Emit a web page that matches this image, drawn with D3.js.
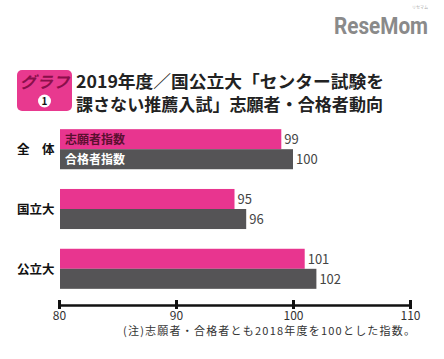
<!DOCTYPE html>
<html lang="ja">
<head>
<meta charset="UTF-8">
<script src="https://cdnjs.cloudflare.com/ajax/libs/d3/7.8.5/d3.min.js"></script>
<style>
body{ margin:0; background:#fff; }
text{ font-family:"Noto Sans CJK JP","Noto Sans",sans-serif; }
</style>
</head>
<body>
<div id="chart"></div>
<script>
// data
const categories = ['全　体', '国立大', '公立大'];
const applicants = [99, 95, 101];   // 志願者指数
const passers = [100, 96, 102];     // 合格者指数
const seriesNames = ['志願者指数', '合格者指数'];
const xTicks = [80, 90, 100, 110];

const w = 444, h = 359;
const svg = d3.select('#chart').append('svg').attr('width', w).attr('height', h);

// logo
svg.append('text').attr('x', 334).attr('y', 34).attr('fill', '#8a8a8a')
  .style('font-family', 'Roboto, sans-serif').style('font-weight', 'bold').style('font-size', '23px')
  .attr('textLength', 94).attr('lengthAdjust', 'spacingAndGlyphs').text('ReseMom');
svg.append('text').attr('x', 420).attr('y', 9).attr('fill', '#aaa').attr('text-anchor', 'middle')
  .style('font-size', '4px').text('リセマム');

// title badge
svg.append('rect').attr('x', 17).attr('y', 70).attr('width', 55).attr('height', 41).attr('rx', 5).attr('fill', '#e8398f');
svg.append('text').attr('x', 44.5).attr('y', 88).attr('text-anchor', 'middle').attr('fill', '#8a0f4a')
  .style('font-size', '16px').style('font-weight', 'bold').style('font-style', 'italic')
  .attr('textLength', 50).attr('lengthAdjust', 'spacingAndGlyphs').text('グラフ');
svg.append('circle').attr('cx', 44.5).attr('cy', 101).attr('r', 6.5).attr('fill', '#fff');
svg.append('text').attr('x', 44.5).attr('y', 105).attr('text-anchor', 'middle').attr('fill', '#111')
  .style('font-size', '10px').style('font-weight', 'bold').text('1');

svg.append('text').attr('x', 76).attr('y', 88).attr('fill', '#222')
  .style('font-size', '17px').style('font-weight', 'bold')
  .attr('textLength', 308).attr('lengthAdjust', 'spacingAndGlyphs').text('2019年度／国公立大「センター試験を');
svg.append('text').attr('x', 76).attr('y', 111).attr('fill', '#222')
  .style('font-size', '17px').style('font-weight', 'bold')
  .attr('textLength', 307).attr('lengthAdjust', 'spacingAndGlyphs').text('課さない推薦入試」志願者・合格者動向');

// scales
const x = d3.scaleLinear().domain([80, 110]).range([59, 410]);
const y = d3.scaleBand().domain(categories).range([119, 299]).paddingInner(0.33).paddingOuter(0.17);
const sub = d3.scaleBand().domain(seriesNames).range([0, y.bandwidth()]);
const colors = ['#e8358f', '#555456'];

const groups = svg.selectAll('g.grp').data(categories).enter().append('g')
  .attr('transform', d => 'translate(0,' + y(d) + ')');

groups.each(function(cat, i) {
  const g = d3.select(this);
  const vals = [applicants[i], passers[i]];
  vals.forEach((v, j) => {
    g.append('rect').attr('x', x(80) + 1).attr('y', sub(seriesNames[j]))
      .attr('width', x(v) - x(80) - 1).attr('height', sub.bandwidth()).attr('fill', colors[j]);
    g.append('text').attr('x', x(v) + 3).attr('y', sub(seriesNames[j]) + sub.bandwidth() / 2 + 5)
      .attr('fill', '#444').style('font-size', '13px').text(v);
  });
  g.append('text').attr('x', 17).attr('y', y.bandwidth() / 2 + 5).attr('fill', '#111')
    .style('font-size', '12.5px').style('font-weight', 'bold').text(cat);
});

// legend inside first group's bars
const g0 = y(categories[0]);
svg.append('text').attr('x', 65).attr('y', g0 + sub(seriesNames[0]) + sub.bandwidth() / 2 + 4.5)
  .attr('fill', '#5a0f30').style('font-size', '12px').style('font-weight', 'bold').text(seriesNames[0]);
svg.append('text').attr('x', 65).attr('y', g0 + sub(seriesNames[1]) + sub.bandwidth() / 2 + 4.5)
  .attr('fill', '#fff').style('font-size', '12px').style('font-weight', 'bold').text(seriesNames[1]);

// axis
const axis = svg.append('g').attr('transform', 'translate(0,305)')
  .call(d3.axisBottom(x).tickValues(xTicks).tickSize(0).tickPadding(6).tickFormat(d3.format('d')));
axis.select('.domain').attr('stroke', '#111').attr('stroke-width', 2.5);
axis.selectAll('.tick line').attr('y1', -5).attr('y2', 4).attr('stroke', '#111').attr('stroke-width', 3);
axis.selectAll('.tick text').attr('fill', '#333').style('font-size', '12px')
  .style('font-family', '"Noto Sans CJK JP",sans-serif');

svg.append('text').attr('x', 123).attr('y', 335).attr('fill', '#333')
  .style('font-size', '11px').attr('textLength', 292).attr('lengthAdjust', 'spacing')
  .text('(注)志願者・合格者とも2018年度を100とした指数。');
</script>
</body>
</html>
